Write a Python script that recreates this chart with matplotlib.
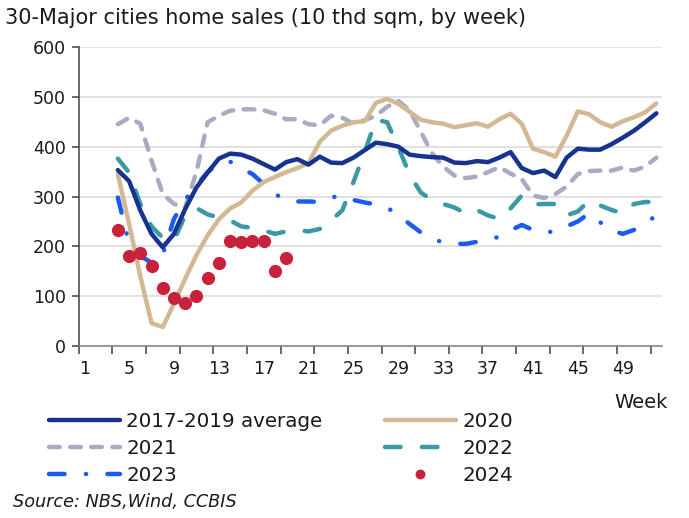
import matplotlib
matplotlib.use("Agg")
import matplotlib.pyplot as plt
import numpy as np

# ---------------- data (weekly, starting at week 4) ----------------
start_week = 4
avg_2017_2019 = [353, 331, 272, 225, 198, 225, 275, 318, 348, 376,
                 386, 384, 376, 365, 354, 369, 375, 364, 380, 368,
                 367, 378, 393, 408, 405, 400, 384, 381, 379, 378,
                 368, 367, 371, 369, 378, 389, 357, 347, 352, 339,
                 378, 396, 394, 394, 405, 418, 432, 449, 467]
y2020 = [345, 245, 140, 46, 38, 85, 135, 182, 222, 254,
         276, 288, 312, 329, 339, 349, 357, 367, 410, 432,
         442, 449, 451, 488, 496, 486, 470, 454, 449, 446,
         439, 443, 447, 440, 455, 466, 446, 396, 389, 380,
         422, 471, 465, 449, 440, 451, 459, 469, 487]
y2021 = [445, 458, 446, 372, 305, 285, 278, 349, 449, 462,
         472, 475, 475, 473, 466, 455, 455, 445, 443, 462,
         458, 446, 453, 462, 480, 492, 473, 430, 387, 360,
         342, 337, 340, 349, 359, 346, 335, 302, 297, 305,
         320, 345, 351, 352, 352, 358, 352, 360, 378]
y2022 = [376, 348, 285, 240, 217, 212, 262, 277, 264, 258,
         252, 240, 237, 232, 225, 230, 232, 230, 235, 252,
         272, 329, 389, 454, 449, 399, 344, 308, 293, 285,
         278, 266, 273, 262, 255, 276, 302, 284, 285, 285,
         262, 270, 292, 282, 273, 266, 285, 289, 289]
y2023 = [298, 205, 180, 168, 184, 255, 294, 322, 349, 367,
         370, 357, 345, 325, 305, 293, 290, 290, 289, 298,
         302, 293, 288, 284, 278, 262, 245, 228, 215, 208,
         205, 205, 209, 217, 218, 232, 243, 233, 228, 230,
         240, 250, 266, 248, 232, 225, 233, 246, 262]
y2024 = [233, 180, 186, 161, 117, 97, 87, 100, 137, 166,
         210, 208, 210, 210, 150, 177]

series_labels = ["2017-2019 average", "2020", "2021", "2022", "2023", "2024"]
x_tick_labels = [str(w) for w in range(1, 53, 4)]
y_ticks = [0, 100, 200, 300, 400, 500, 600]

title = "30-Major cities home sales (10 thd sqm, by week)"
source = "Source: NBS,Wind, CCBIS"

# ---------------- styling ----------------
plt.rcParams['font.family'] = ['DejaVu Sans']
W, H = 689, 518
fig = plt.figure(figsize=(W / 100, H / 100), dpi=100)
ax = fig.add_axes([78.6 / W, (H - 346) / H, (662 - 78.6) / W, (346 - 47) / H])

def xs(vals):
    return np.arange(start_week, start_week + len(vals))

lw = 3.2
c_avg = "#17338F"
c_2020 = "#D3B895"
c_2021 = "#A9ABC2"
c_2022 = "#3A99A5"
c_2023 = "#1A5CF2"
c_2024 = "#C8213B"
txt = "#1a1a1a"

h_avg, = ax.plot(xs(avg_2017_2019), avg_2017_2019, color=c_avg, lw=lw,
                 solid_joinstyle="round", solid_capstyle="round", zorder=5)
h_2020, = ax.plot(xs(y2020), y2020, color=c_2020, lw=lw,
                  solid_joinstyle="round", solid_capstyle="round", zorder=4)
h_2021, = ax.plot(xs(y2021), y2021, color=c_2021, lw=lw,
                  linestyle=(0, (2.4, 2.35)), dash_capstyle="round", zorder=3)
h_2022, = ax.plot(xs(y2022), y2022, color=c_2022, lw=lw,
                  linestyle=(0, (3.5, 4.8)), dash_capstyle="round", zorder=3)
h_2023, = ax.plot(xs(y2023), y2023, color=c_2023, lw=lw,
                  linestyle=(0, (3.5, 4.8, 0.05, 4.8)), dash_capstyle="round", zorder=3)
h_2024, = ax.plot(xs(y2024), y2024, color=c_2024, lw=0, marker="o",
                  markersize=9.5, markeredgewidth=0, zorder=6)

ax.set_xlim(0.5, 52.5)
ax.set_ylim(0, 600)
ax.set_yticks(y_ticks)
ax.set_yticklabels([str(v) for v in y_ticks])
ax.yaxis.grid(True, color="#D9D9D9", lw=1.1)
ax.set_axisbelow(True)

ax.set_xticks(np.arange(0.5, 52, 3))
ax.set_xticklabels([])
ax.set_xticks(list(range(1, 53, 4)), minor=True)
ax.set_xticklabels(x_tick_labels, minor=True)
ax.tick_params(axis="x", which="minor", length=0, pad=10, labelsize=12.5, labelcolor=txt)
ax.tick_params(axis="x", which="major", length=6, width=1.1, color="#404040", direction="out")
ax.tick_params(axis="y", length=5, width=1.1, color="#404040", direction="out",
               labelsize=12.5, pad=4, labelcolor=txt)

for s in ["top", "right"]:
    ax.spines[s].set_visible(False)
ax.spines["left"].set_color("#404040")
ax.spines["bottom"].set_color("#808080")
ax.spines["left"].set_linewidth(1.1)
ax.spines["bottom"].set_linewidth(1.1)

fig.text(5 / W, 1 - 18 / H, title, fontsize=15, va="center", ha="left", color=txt)
fig.text(668 / W, 1 - 403 / H, "Week", fontsize=14, va="center", ha="right", color=txt)
fig.text(13 / W, 1 - 502 / H, source, fontsize=12.7, style="italic", va="center", ha="left", color=txt)

leg_kw = dict(loc="upper left", frameon=False, fontsize=14.3, handlelength=3.55,
              handletextpad=0.33, labelspacing=0.4, numpoints=1, borderaxespad=0,
              borderpad=0, markerscale=0.75)
leg1 = fig.legend([h_avg, h_2021, h_2023], ["2017-2019 average", "2021", "2023"],
                  bbox_to_anchor=(49 / W, 1 - 412 / H), **leg_kw)
leg2 = fig.legend([h_2020, h_2022, h_2024], ["2020", "2022", "2024"],
                  bbox_to_anchor=(385 / W, 1 - 412 / H), **leg_kw)
for lg in (leg1, leg2):
    for t in lg.get_texts():
        t.set_color(txt)

fig.savefig("out.png", dpi=100)
